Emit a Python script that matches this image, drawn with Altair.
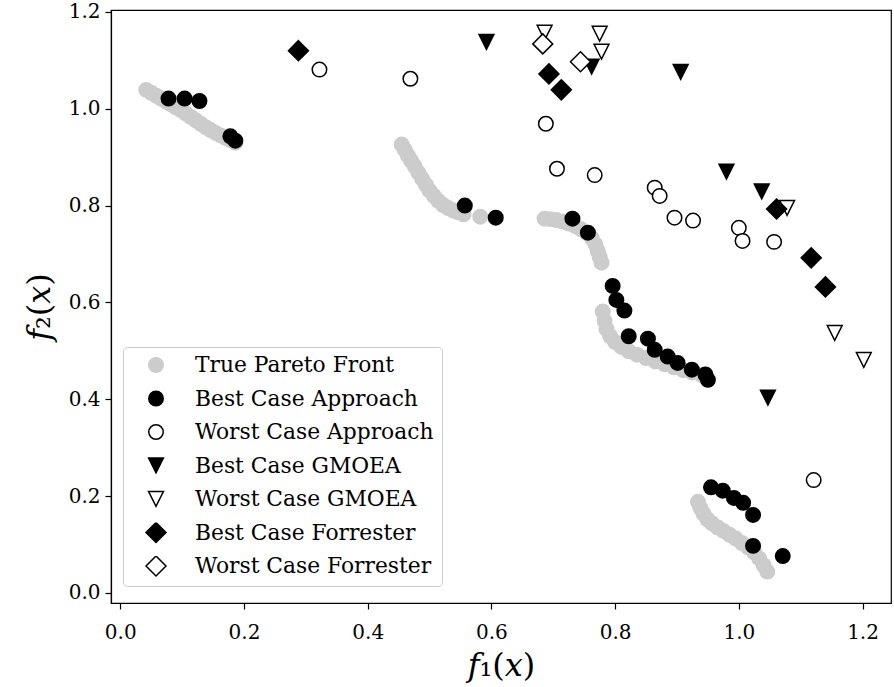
import altair as alt
import pandas as pd

# Series names, in drawing / legend order
series_names = [
    "True Pareto Front",
    "Best Case Approach",
    "Worst Case Approach",
    "Best Case GMOEA",
    "Worst Case GMOEA",
    "Best Case Forrester",
    "Worst Case Forrester",
]

# True Pareto front (five disconnected pieces)
pareto_f1 = [
    0.042, 0.050, 0.058, 0.066, 0.074, 0.082, 0.090, 0.098, 0.106, 0.114,
    0.122, 0.130, 0.138, 0.146, 0.154, 0.162, 0.170, 0.178, 0.186,
    0.455, 0.460, 0.465, 0.470, 0.476, 0.482, 0.488, 0.494, 0.500, 0.507,
    0.514, 0.522, 0.530, 0.538, 0.546, 0.555, 0.582,
    0.686, 0.695, 0.705, 0.715, 0.725, 0.735, 0.745, 0.754, 0.762, 0.768,
    0.772, 0.775, 0.778,
    0.780, 0.783, 0.786, 0.792, 0.800, 0.810, 0.822, 0.835, 0.850, 0.865,
    0.880, 0.895, 0.910, 0.925, 0.940,
    0.934, 0.938, 0.943, 0.949, 0.957, 0.966, 0.975, 0.985, 0.995, 1.005,
    1.015, 1.025, 1.033, 1.040, 1.046,
]
pareto_f2 = [
    1.039, 1.033, 1.027, 1.021, 1.015, 1.009, 1.003, 0.997, 0.990, 0.983,
    0.976, 0.969, 0.962, 0.956, 0.950, 0.945, 0.940, 0.935, 0.930,
    0.926, 0.915, 0.903, 0.893, 0.881, 0.868, 0.855, 0.843, 0.831, 0.820,
    0.810, 0.801, 0.795, 0.790, 0.786, 0.782, 0.777,
    0.773, 0.772, 0.770, 0.767, 0.763, 0.758, 0.751, 0.743, 0.733, 0.720,
    0.706, 0.694, 0.682,
    0.581, 0.562, 0.545, 0.530, 0.518, 0.508, 0.499, 0.492, 0.485, 0.478,
    0.472, 0.466, 0.460, 0.455, 0.450,
    0.188, 0.175, 0.163, 0.152, 0.143, 0.135, 0.128, 0.120, 0.112, 0.103,
    0.094, 0.083, 0.071, 0.057, 0.044,
]

best_approach_f1 = [0.078, 0.104, 0.128, 0.178, 0.186, 0.557, 0.607, 0.731, 0.756,
                    0.796, 0.802, 0.815, 0.822, 0.853, 0.864, 0.885, 0.901, 0.924,
                    0.946, 0.950, 0.955, 0.974, 0.992, 1.007, 1.023, 1.023, 1.071]
best_approach_f2 = [1.021, 1.021, 1.016, 0.943, 0.934, 0.800, 0.775, 0.773, 0.744,
                    0.634, 0.605, 0.583, 0.530, 0.525, 0.502, 0.488, 0.475, 0.461,
                    0.451, 0.440, 0.218, 0.211, 0.196, 0.186, 0.161, 0.097, 0.076]

worst_approach_f1 = [0.322, 0.469, 0.688, 0.706, 0.767, 0.864, 0.872, 0.896, 0.926,
                     1.000, 1.006, 1.057, 1.121]
worst_approach_f2 = [1.081, 1.062, 0.969, 0.876, 0.863, 0.837, 0.820, 0.775, 0.769,
                     0.754, 0.727, 0.725, 0.233]

best_gmoea_f1 = [0.592, 0.762, 0.906, 0.980, 1.037, 1.047]
best_gmoea_f2 = [1.138, 1.087, 1.076, 0.870, 0.829, 0.403]

worst_gmoea_f1 = [0.686, 0.775, 0.778, 1.078, 1.155, 1.202]
worst_gmoea_f2 = [1.157, 1.155, 1.118, 0.795, 0.537, 0.481]

best_forrester_f1 = [0.288, 0.693, 0.713, 1.061, 1.117, 1.140]
best_forrester_f2 = [1.120, 1.072, 1.039, 0.793, 0.692, 0.632]

worst_forrester_f1 = [0.683, 0.744]
worst_forrester_f2 = [1.134, 1.097]

x_ticks = [0.0, 0.2, 0.4, 0.6, 0.8, 1.0, 1.2]
y_ticks = [0.0, 0.2, 0.4, 0.6, 0.8, 1.0, 1.2]

groups = [
    (pareto_f1, pareto_f2),
    (best_approach_f1, best_approach_f2),
    (worst_approach_f1, worst_approach_f2),
    (best_gmoea_f1, best_gmoea_f2),
    (worst_gmoea_f1, worst_gmoea_f2),
    (best_forrester_f1, best_forrester_f2),
    (worst_forrester_f1, worst_forrester_f2),
]
rows = []
for name, (xs, ys) in zip(series_names, groups):
    for a, b in zip(xs, ys):
        rows.append({"f1": a, "f2": b, "series": name})
df = pd.DataFrame(rows)

# matplotlib-like marker outlines (unit box -1..1)
tri_down = "M-1,-1L1,-1L0,1Z"
diamond = "M0,-1L1,0L0,1L-1,0Z"
shape_range = ["circle", "circle", "circle", tri_down, tri_down, diamond, diamond]
fill_range = ["#cccccc", "black", "white", "black", "white", "black", "white"]
stroke_range = ["#cccccc", "black", "black", "black", "black", "black", "black"]
size_range = [210, 210, 210, 220, 220, 400, 400]

FONT = "DejaVu Serif"
leg = alt.Legend(
    title=None, orient="none", legendX=12, legendY=337,
    fillColor="white", strokeColor="#cccccc", cornerRadius=4, padding=8,
    labelFont=FONT, labelFontSize=21.8, labelColor="black", labelLimit=500,
    symbolOffset=14, labelOffset=28, rowPadding=11.5, clipHeight=20,
    symbolStrokeWidth=1.5,
)


def series_scale(values):
    return alt.Scale(type="ordinal", domain=series_names, range=values)


chart = alt.Chart(df).mark_point(opacity=1, strokeWidth=1.5).encode(
    x=alt.X("f1:Q", title="𝑓₁(𝑥)",
            scale=alt.Scale(domain=[-0.015, 1.246], nice=False, zero=False),
            axis=alt.Axis(values=x_ticks, format=".1f")),
    y=alt.Y("f2:Q", title="𝑓₂(𝑥)",
            scale=alt.Scale(domain=[-0.021, 1.204], nice=False, zero=False),
            axis=alt.Axis(values=y_ticks, format=".1f")),
    shape=alt.Shape("series:O", scale=series_scale(shape_range), legend=leg),
    fill=alt.Fill("series:O", scale=series_scale(fill_range), legend=leg),
    stroke=alt.Stroke("series:O", scale=series_scale(stroke_range), legend=leg),
    size=alt.Size("series:O", scale=series_scale(size_range), legend=leg),
).properties(
    width=780, height=593,
    padding={"left": 111, "top": 10, "right": 3, "bottom": 84},
    autosize=alt.AutoSizeParams(type="none"),
).configure_view(
    stroke="black", strokeWidth=1.2
).configure_axis(
    grid=False, domainColor="black", domainWidth=1.2, tickColor="black", tickSize=6,
    tickWidth=1.2, labelColor="black", labelFont=FONT, labelFontSize=20,
    titleFont=FONT, titleFontSize=32, titleFontWeight="normal", titleColor="black",
).configure_axisX(
    labelPadding=13, titlePadding=8
).configure_axisY(
    labelPadding=5, titlePadding=12
)

chart.save("out.html", embed_options={"renderer": "svg", "actions": False})
